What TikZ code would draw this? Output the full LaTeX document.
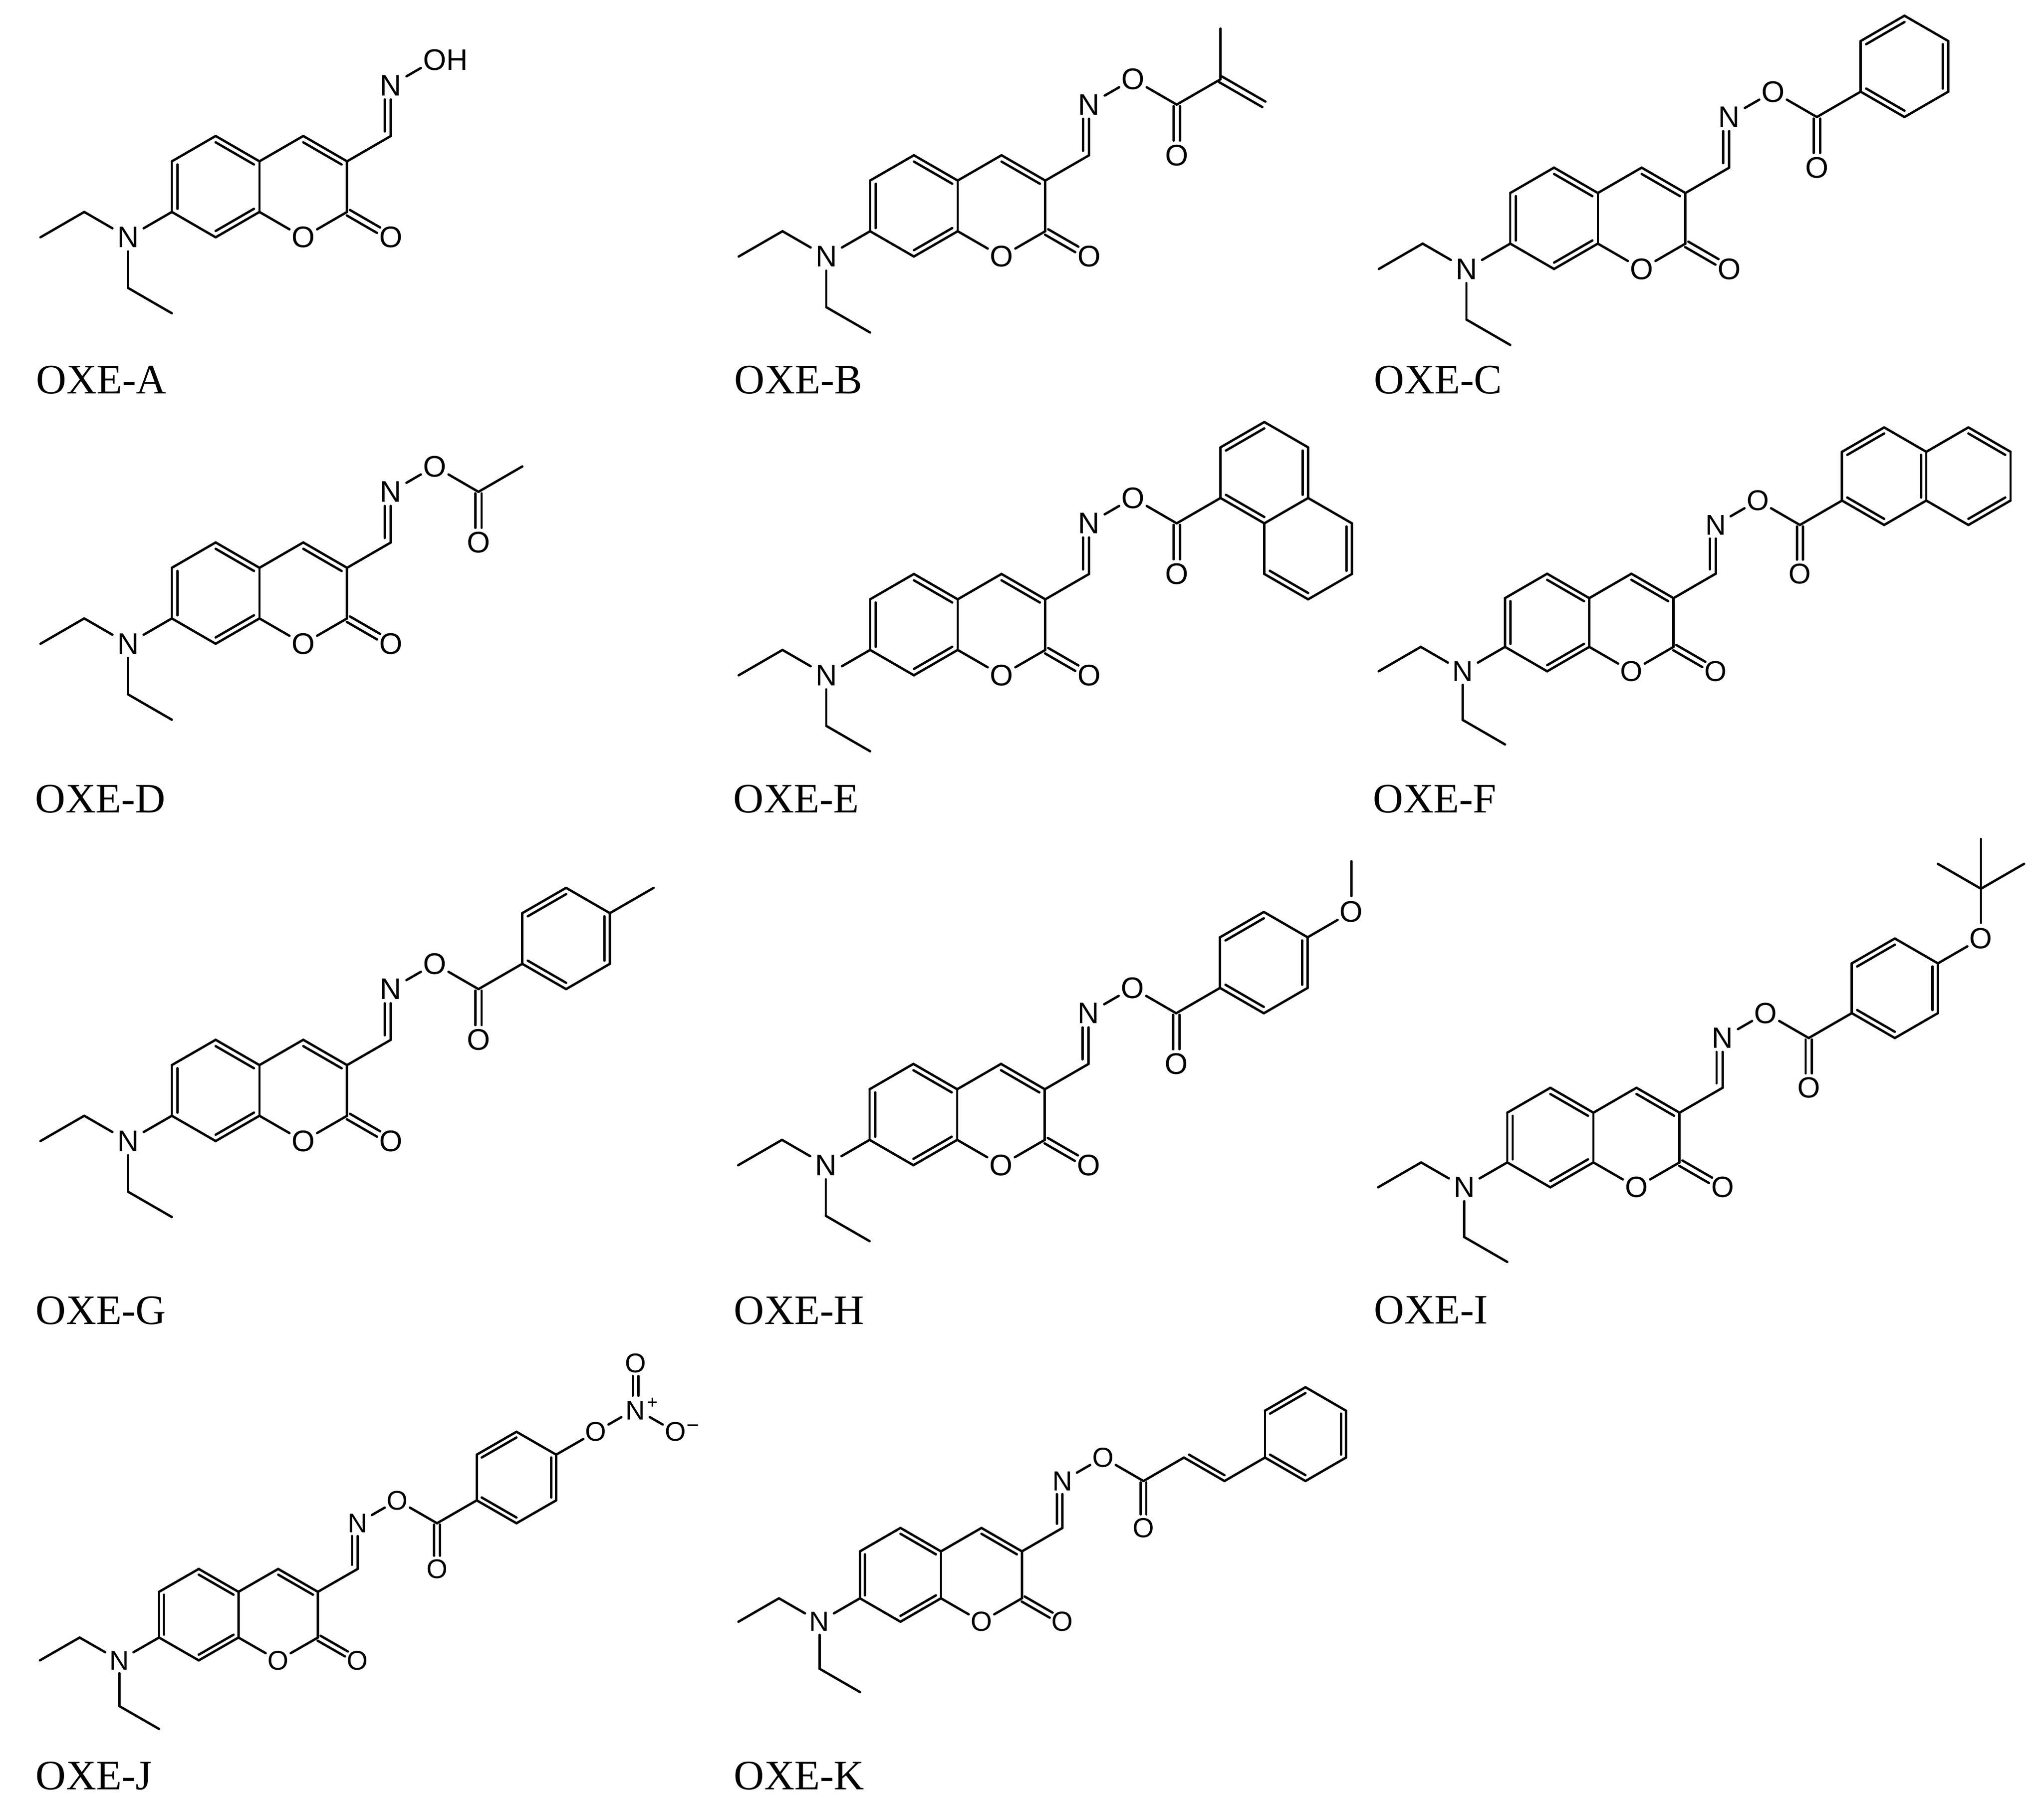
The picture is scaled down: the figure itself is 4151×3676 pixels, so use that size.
\documentclass[tikz,border=0pt]{standalone}
\usepackage{fontspec}
\setmainfont{Liberation Serif}
\newfontfamily\atomfam{Liberation Sans}
\usetikzlibrary{calc}
\def\ascale{1}
\def\afs{16}
\def\dsym{1.8pt}
\def\atomf{\atomfam\fontsize{\afs}{\afs}\selectfont}
\tikzset{
  bond/.style={line width=.048cm,line cap=round,black},
  atomO/.style={circle,inner sep=0pt,minimum size=\ascale*.56cm,font=\atomf,text=black},
  atomN/.style={rectangle,inner sep=0pt,minimum width=\ascale*.62cm,minimum height=\ascale*.56cm,font=\atomf,text=black},
  cpd/.style={anchor=base west,inner sep=0pt,text=black,font=\fontsize{24.2}{24.2}\selectfont}
}
% single bonds
\newcommand\bonds[1]{\foreach \p/\q in {#1}{\draw[bond] (\p) -- (\q);}}
% inner line of a double bond, moved towards a centre
\newcommand\inners[1]{\foreach \p/\q/\rr in {#1}{\draw[bond] ($(\p)!.125!(\rr)$) -- ($(\q)!.125!(\rr)$);}}
% symmetric double bond between fractions #3 and #4
\newcommand\sdbl[4]{%
  \draw[bond] ($(#1)!#3!(#2)!\dsym!90:(#2)$) -- ($(#1)!#4!(#2)!\dsym!90:(#2)$);
  \draw[bond] ($(#1)!#3!(#2)!\dsym!-90:(#2)$) -- ($(#1)!#4!(#2)!\dsym!-90:(#2)$);}
\newcommand\mol[6]{%
  \pgfmathsetmacro\ascale{#4/.889}%
  \pgfmathsetmacro\afs{17.2*\ascale}%
  \pgfmathsetlengthmacro\dsym{0.064cm*\ascale}%
  \begin{scope}[shift={(#2,-#3)},x=#4cm,y=#5cm,name prefix=#1-]
    \core
    #6
  \end{scope}}
\newcommand\core{%
  \foreach \n/\xx/\yy in {c7/0/0,c6/0/2,c5/1/3,c4a/2/2,c4/3/3,c3/4/2,c2/4/0,c8a/2/0,c8/1/-1,
    e1/-2/0,e2/-3/-1,e3/-1/-3,e4/0/-4,ch/5/3,cb/1/1,cp/3/1}{\coordinate (\n) at (\xx,\yy);}
  \node[atomN] (n7) at (-1,-1) {N};
  \node[atomO] (o1) at (3,-1) {O};
  \node[atomO] (o2) at (5,-1) {O};
  \node[atomN] (nox) at (5,5) {N};
  \bonds{c7/c6,c6/c5,c5/c4a,c4a/c4,c4/c3,c3/c2,c2/o1,o1/c8a,c8a/c8,c8/c7,c4a/c8a,c7/n7,n7/e1,e1/e2,n7/e3,e3/e4,c3/ch,ch/nox}
  \inners{c7/c6/cb,c5/c4a/cb,c8a/c8/cb,c4/c3/cp}
  \sdbl{c2}{o2}{.03}{.72}
  \draw[bond] ($(ch)!.09!(nox)!\ascale*.125cm!90:(nox)$) -- ($(ch)!.72!(nox)!\ascale*.125cm!90:(nox)$);
}
\newcommand\ester{%
  \node[atomO] (oe) at (6,6) {O};
  \coordinate (cc) at (7,5);
  \node[atomO] (oc) at (7,3) {O};
  \bonds{nox/oe,oe/cc}
  \sdbl{cc}{oc}{.03}{.71}
}
\newcommand\aryl{%
  \foreach \n/\xx/\yy in {r1/8/6,r2/8/8,r3/9/9,r4/10/8,r5/10/6,r6/9/5,rc/9/7}{\coordinate (\n) at (\xx,\yy);}
  \bonds{cc/r1,r1/r2,r2/r3,r3/r4,r4/r5,r5/r6,r6/r1}
  \inners{r1/r6/rc,r2/r3/rc,r4/r5/rc}
}
\begin{document}
\begin{tikzpicture}[x=0.01cm,y=0.01cm]
\useasboundingbox (0,0) rectangle (4151,-3676);
\fill[white] (0,0) rectangle (4151,-3676);

% OXE-A
\mol{A}{349}{430.5}{.889}{.514}{%
  \node[atomO] (oh) at (6,6) {O\rlap{H}};
  \bonds{nox/oh}
}
% OXE-B
\mol{B}{1767}{469.6}{.889}{.514}{%
  \ester
  \foreach \n/\xx/\yy in {m1/8/6,m2/8/8,m3/9/5}{\coordinate (\n) at (\xx,\yy);}
  \bonds{cc/m1,m1/m2}
  \sdbl{m1}{m3}{.0}{.99}
}
% OXE-C
\mol{C}{3067}{494.8}{.889}{.514}{\ester\aryl}
% OXE-D
\mol{D}{349}{1256}{.889}{.514}{%
  \ester
  \coordinate (me) at (8,6);
  \bonds{cc/me}
}
% OXE-E
\mol{E}{1767}{1320}{.889}{.514}{%
  \ester\aryl
  \foreach \n/\xx/\yy in {s1/9/3,s2/10/2,s3/11/3,s4/11/5,sc/10/4}{\coordinate (\n) at (\xx,\yy);}
  \bonds{r6/s1,s1/s2,s2/s3,s3/s4,s4/r5}
  \inners{s1/s2/sc,s3/s4/sc}
}
% OXE-F
\mol{F}{3056.4}{1313.8}{.855}{.495}{%
  \ester\aryl
  \foreach \n/\xx/\yy in {s1/11/9,s2/12/8,s3/12/6,s4/11/5,sc/11/7}{\coordinate (\n) at (\xx,\yy);}
  \bonds{r4/s1,s1/s2,s2/s3,s3/s4,s4/r5}
  \inners{s1/s2/sc,s3/s4/sc}
}
% OXE-G
\mol{G}{349}{2266}{.889}{.514}{%
  \ester\aryl
  \coordinate (me) at (11,9);
  \bonds{r4/me}
}
% OXE-H
\mol{H}{1766}{2315}{.889}{.514}{%
  \ester\aryl
  \node[atomO] (om) at (11,9) {O};
  \coordinate (me) at (11,11);
  \bonds{r4/om,om/me}
}
% OXE-I
\mol{I}{3061}{2360.8}{.874}{.505}{%
  \ester\aryl
  \node[atomO] (om) at (11,9) {O};
  \foreach \n/\xx/\yy in {tb/11/11,t1/11/13,t2/10/12,t3/12/12}{\coordinate (\n) at (\xx,\yy);}
  \bonds{r4/om,om/tb,tb/t1,tb/t2,tb/t3}
}
% OXE-J
\mol{J}{323}{3325.7}{.806}{.464}{%
  \ester\aryl
  \node[atomO] (om) at (11,9) {O};
  \node[atomN] (nn) at (12,10) {N\rlap{\kern1pt\raise6.7pt\hbox{\fontsize{10.5}{10.5}\selectfont +}}};
  \node[atomO] (ot) at (12,12) {O};
  \node[atomO] (ox) at (13,9) {O\rlap{\kern.4pt\raise5pt\hbox{\fontsize{12.5}{12.5}\selectfont −}}};
  \bonds{r4/om,om/nn,nn/ox}
  \sdbl{nn}{ot}{.29}{.72}
}
% OXE-K
\mol{K}{1746.4}{3246}{.822}{.476}{%
  \ester
  \foreach \n/\xx/\yy in {v1/8/6,v2/9/5,vc/9/7,r1/10/6,r2/10/8,r3/11/9,r4/12/8,r5/12/6,r6/11/5,rc/11/7}{\coordinate (\n) at (\xx,\yy);}
  \bonds{cc/v1,v1/v2,v2/r1,r1/r2,r2/r3,r3/r4,r4/r5,r5/r6,r6/r1}
  \inners{v1/v2/vc,r1/r6/rc,r2/r3/rc,r4/r5/rc}
}

\node[cpd] (lA) at (73,-799.6) {OXE-A};
\node[cpd] (lB) at (1491,-799.6) {OXE-B};
\node[cpd] (lC) at (2790,-799.6) {OXE-C};
\node[cpd] (lD) at (71,-1650) {OXE-D};
\node[cpd] (lE) at (1489,-1650) {OXE-E};
\node[cpd] (lF) at (2788,-1650) {OXE-F};
\node[cpd] (lG) at (72,-2689) {OXE-G};
\node[cpd] (lH) at (1490,-2689) {OXE-H};
\node[cpd] (lI) at (2790,-2688) {OXE-I};
\node[cpd] (lJ) at (72,-3634) {OXE-J};
\node[cpd] (lK) at (1490,-3634) {OXE-K};
\end{tikzpicture}
\end{document}
